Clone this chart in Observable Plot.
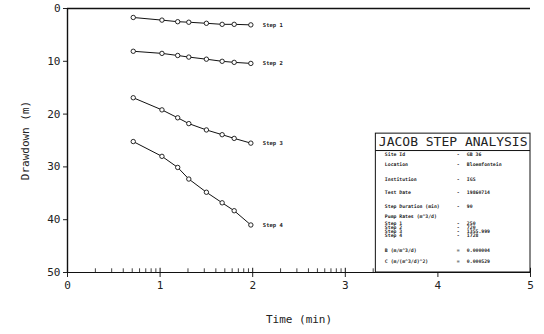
<!DOCTYPE html>
<html>
<head>
<meta charset="utf-8">
<script src="https://cdn.jsdelivr.net/npm/d3@7"></script>
<script src="https://cdn.jsdelivr.net/npm/@observablehq/plot@0.6"></script>
<style>
  html, body { margin: 0; padding: 0; background: #fff; }
  #chart { width: 544px; height: 334px; }
</style>
</head>
<body>
<div id="chart"></div>
<script>
// ---- data ----
const times = [0.71, 1.02, 1.19, 1.31, 1.50, 1.67, 1.80, 1.98];
const stepNames = ["Step 1", "Step 2", "Step 3", "Step 4"];
const step1 = [1.7, 2.2, 2.5, 2.6, 2.8, 3.0, 3.0, 3.1];
const step2 = [8.1, 8.5, 8.9, 9.2, 9.6, 10.0, 10.2, 10.4];
const step3 = [16.9, 19.2, 20.7, 21.8, 23.0, 23.9, 24.6, 25.5];
const step4 = [25.2, 28.0, 30.1, 32.3, 34.8, 36.8, 38.3, 41.0];
const xTicks = [0, 1, 2, 3, 4, 5];
const yTicks = [0, 10, 20, 30, 40, 50];
const boxTitle = "JACOB STEP ANALYSIS";
const boxLabels = ["Site Id", "Location", "Institution", "Test Date", "Step Duration (min)",
  "Pump Rates (m^3/d)", "Step 1", "Step 2", "Step 3", "Step 4", "B (m/m^3/d)", "C (m/(m^3/d)^2)"];
const boxSeps = ["-", "-", "-", "-", "-", "", "-", "-", "-", "-", "=", "="];
const boxValues = ["GB 36", "Bloemfontein", "IGS", "19860714", "90", "",
  "250", "720", "1355.999", "1728", "0.000004", "0.000529"];

// ---- tables ----
const series = [step1, step2, step3, step4];
const pts = [];
series.forEach((s, i) => s.forEach((v, j) => pts.push({step: stepNames[i], t: times[j], d: v})));
const lastPts = series.map((s, i) => ({step: stepNames[i], t: times[times.length - 1], d: s[s.length - 1]}));
// log-cycle minor ticks on the time axis
const minor = [];
for (let c = 0; c < 5; c++) for (let k = 2; k <= 9; k++) minor.push(c + Math.log10(k));

// layout of the info box (data units of the axes)
const bx1 = 3.33, bx2 = 5, by1 = 23.7, by2 = 50, bHead = 26.9;
const rowY = [27.6, 29.6, 32.3, 34.8, 37.4, 39.4, 40.8, 41.5, 42.2, 42.9, 45.8, 47.9];
const rows = boxLabels.map((l, i) => ({label: l, sep: boxSeps[i], value: boxValues[i], y: rowY[i]}));

const font = "DejaVu Sans Mono";
const chart = Plot.plot({
  width: 544,
  height: 334,
  marginLeft: 67,
  marginRight: 14,
  marginTop: 8,
  marginBottom: 62,
  style: {fontFamily: font, fontSize: "11px", color: "#222", background: "#fff", overflow: "visible"},
  x: {domain: [0, 5]},
  y: {domain: [0, 50], reverse: true},
  marks: [
    Plot.axisX({ticks: xTicks, tickSize: 5, tickPadding: 4, tickFormat: d3.format("d"),
      label: "Time (min)", labelAnchor: "center", labelArrow: "none", labelOffset: 50, fontSize: 11}),
    Plot.axisY({ticks: yTicks, tickSize: 4, tickPadding: 3, tickFormat: d3.format("d"),
      label: "Drawdown (m)", labelAnchor: "center", labelArrow: "none", labelOffset: 46, fontSize: 11}),
    Plot.ruleY([50], {stroke: "#111", strokeWidth: 1.2}),
    Plot.ruleY([0], {stroke: "#111", strokeWidth: 1.6}),
    Plot.ruleX([0], {stroke: "#111", strokeWidth: 1.4}),
    Plot.ruleX(minor, {y1: 50, y2: 49.3, stroke: "#111", strokeWidth: 0.8}),
    Plot.ruleX(xTicks, {y1: 50, y2: 49.2, stroke: "#111", strokeWidth: 1}),
    // data
    Plot.line(pts, {x: "t", y: "d", z: "step", stroke: "#111", strokeWidth: 1}),
    Plot.dot(pts, {x: "t", y: "d", r: 2.2, stroke: "#111", fill: "#fff", strokeWidth: 0.9}),
    Plot.text(lastPts, {x: "t", y: "d", text: "step", dx: 12, textAnchor: "start",
      fontSize: 5.5, fontWeight: "bold", fill: "#222"}),
    // info box
    Plot.rect([{}], {x1: bx1, x2: bx2, y1: by1, y2: by2, fill: "#fff", stroke: "#111", strokeWidth: 1}),
    Plot.ruleY([bHead], {x1: bx1, x2: bx2, stroke: "#111", strokeWidth: 1}),
    Plot.text([boxTitle], {x: (bx1 + bx2) / 2, y: (by1 + bHead) / 2, text: d => d,
      fontSize: 13, fill: "#222", textAnchor: "middle"}),
    Plot.text(rows, {x: bx1, y: "y", text: "label", dx: 9, textAnchor: "start",
      fontSize: 4.8, fontWeight: "bold", fill: "#222"}),
    Plot.text(rows, {x: bx1, y: "y", text: "sep", dx: 81, textAnchor: "start",
      fontSize: 4.8, fontWeight: "bold", fill: "#222"}),
    Plot.text(rows, {x: bx1, y: "y", text: "value", dx: 91, textAnchor: "start",
      fontSize: 4.8, fontWeight: "bold", fill: "#222"})
  ]
});
document.getElementById("chart").appendChild(chart);
</script>
</body>
</html>
